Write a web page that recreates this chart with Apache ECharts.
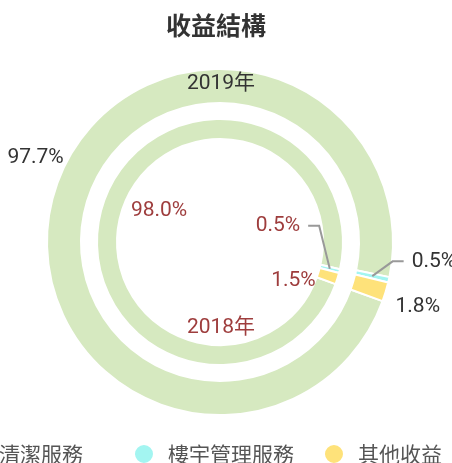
<!DOCTYPE html>
<html>
<head>
<meta charset="utf-8">
<script src="https://cdn.jsdelivr.net/npm/echarts@6/dist/echarts.min.js"></script>
<style>
  html, body { margin: 0; padding: 0; background: #fff; }
  #chart { width: 452px; height: 463px; }
</style>
</head>
<body>
<div id="chart"></div>
<script>
  const categories = ['清潔服務', '樓宇管理服務', '其他收益']
  const values2019 = [97.7, 0.5, 1.8]
  const values2018 = [98.0, 0.5, 1.5]
  const years = ['2019年', '2018年']

  const colors = ['#d6e9c0', '#a3f5f1', '#fee27a']
  const numFont = "Roboto, 'Noto Sans CJK TC', sans-serif"
  const cjkFont = "'Noto Sans CJK TC', 'Noto Sans CJK SC', sans-serif"

  const cx = 220
  const cy = 242
  const startAngle = -20

  // label placement per ring (outer ring labels outside, inner ring labels inside the hole)
  const labelSetup = [
    { side: 'out', textR: 176, midR: 156, elbowR: 180, withLine: [1], nudge: [[13, -36], [-3, -20], [7, 14]] },
    { side: 'in', textR: 96, midR: 113, elbowR: 100, withLine: [1], nudge: [[3, -4], [2, -40], [4, 10]] }
  ]

  const midAngles = (values) => {
    const total = values.reduce((a, b) => a + b, 0)
    let acc = 0
    return values.map((v) => {
      const a = startAngle - ((acc + v / 2) / total) * 360
      acc += v
      return (a * Math.PI) / 180
    })
  }
  const angles = [midAngles(values2019), midAngles(values2018)]

  const polar = (r, a) => [cx + r * Math.cos(a), cy - r * Math.sin(a)]

  const labelGeometry = (s, i) => {
    const cfg = labelSetup[s]
    const a = angles[s][i]
    const right = Math.cos(a) > 0
    const outward = cfg.side === 'out' ? right : !right
    const dir = outward ? 1 : -1
    const [nx, ny] = cfg.nudge[i]
    if (cfg.withLine.includes(i)) {
      const p0 = polar(cfg.midR, a)
      const p1 = polar(cfg.elbowR, a)
      p1[0] += nx
      p1[1] += ny
      const p2 = [p1[0] + dir * 11, p1[1]]
      return { x: p2[0] + dir * 8, y: p2[1], align: dir > 0 ? 'left' : 'right', line: [p0, p1, p2] }
    }
    const p = polar(cfg.textR, a)
    return { x: p[0] + nx, y: p[1] + ny, align: dir > 0 ? 'left' : 'right', line: null }
  }

  const labelLayout = (params) => {
    const g = labelGeometry(params.seriesIndex, params.dataIndex)
    return { x: g.x, y: g.y, align: g.align, verticalAlign: 'middle' }
  }

  // connector lines drawn above the rings
  const connectors = []
  labelSetup.forEach((cfg, s) => {
    cfg.withLine.forEach((i) => {
      connectors.push({
        type: 'polyline',
        z: 20,
        silent: true,
        shape: { points: labelGeometry(s, i).line },
        style: { stroke: '#999', lineWidth: 2, fill: null }
      })
    })
  })

  const makeData = (values) =>
    values.map((v, i) => ({
      name: categories[i],
      value: v,
      itemStyle: { color: colors[i] }
    }))

  const chart = echarts.init(document.getElementById('chart'))

  const labelBase = {
    show: true,
    position: 'outside',
    fontSize: 21,
    fontFamily: numFont,
    width: 90,
    formatter: (p) => p.value.toFixed(1) + '%'
  }

  const option = {
    animation: false,
    color: colors,
    title: {
      text: '收益結構',
      left: 161,
      top: 8,
      textStyle: { fontSize: 25, fontWeight: 'bold', color: '#333', fontFamily: cjkFont }
    },
    legend: {
      data: categories,
      // first entry is wider in the original, trailing ideographic space keeps the spacing
      formatter: (name) => (name === categories[0] ? name + '\u3000' : name),
      icon: 'circle',
      left: -41,
      top: 438,
      width: 700,
      itemWidth: 20,
      itemHeight: 20,
      itemGap: 29,
      textStyle: { fontSize: 21, color: '#555', fontFamily: cjkFont, padding: [0, 0, 0, 9] }
    },
    graphic: [
      {
        type: 'text',
        x: 221,
        y: 84,
        z: 10,
        style: { text: years[0], fill: '#333', font: '21px ' + numFont, textAlign: 'center', textVerticalAlign: 'middle' }
      },
      {
        type: 'text',
        x: 221,
        y: 328,
        z: 10,
        style: { text: years[1], fill: '#9e3d3d', font: '21px ' + numFont, textAlign: 'center', textVerticalAlign: 'middle' }
      },
      ...connectors
    ],
    series: [
      {
        name: years[0],
        type: 'pie',
        center: [cx, cy],
        radius: [139, 173],
        startAngle: startAngle,
        clockwise: true,
        avoidLabelOverlap: false,
        itemStyle: { borderColor: '#fff', borderWidth: 2 },
        label: { ...labelBase, color: '#333' },
        labelLine: { show: false },
        labelLayout: labelLayout,
        emphasis: { disabled: true },
        data: makeData(values2019)
      },
      {
        name: years[1],
        type: 'pie',
        center: [cx, cy],
        radius: [103, 123],
        startAngle: startAngle,
        clockwise: true,
        avoidLabelOverlap: false,
        itemStyle: { borderColor: '#fff', borderWidth: 2 },
        label: { ...labelBase, color: '#9e3d3d' },
        labelLine: { show: false },
        labelLayout: labelLayout,
        emphasis: { disabled: true },
        data: makeData(values2018)
      }
    ]
  }

  chart.setOption(option)
</script>
</body>
</html>
